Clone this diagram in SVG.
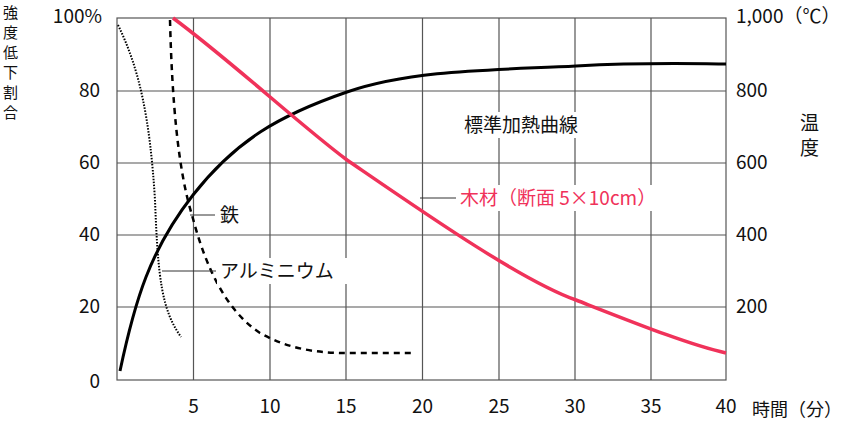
<svg xmlns="http://www.w3.org/2000/svg" width="860" height="425" viewBox="0 0 860 425">
<style>
.g{stroke:#555;stroke-width:1.2;fill:none}
.t{font-family:"Noto Sans CJK JP","Noto Sans",sans-serif;font-size:19px;fill:#111}
.v{font-size:15px}
.r{fill:#f0325a}
.ld{stroke:#333;stroke-width:1;fill:none}
</style>
<rect width="860" height="425" fill="#fff"/>
<g id="grid">
<rect x="117" y="18" width="609" height="362" class="g"/>
<path class="g" d="M193.5 18V380M270 18V380M346 18V380M422.5 18V380M499 18V380M575 18V380M651 18V380M117 91H726M117 163H726M117 235H726M117 307H726"/>
</g>
<g id="axes" class="t">
<text x="3" y="18" class="v">強</text><text x="3" y="38" class="v">度</text><text x="3" y="58" class="v">低</text><text x="3" y="78" class="v">下</text><text x="3" y="98" class="v">割</text><text x="3" y="118" class="v">合</text>
<text x="102" y="23" text-anchor="end">100%</text>
<text x="100" y="97" text-anchor="end">80</text>
<text x="100" y="169" text-anchor="end">60</text>
<text x="100" y="241" text-anchor="end">40</text>
<text x="100" y="313" text-anchor="end">20</text>
<text x="100" y="388" text-anchor="end">0</text>
<text x="736" y="23">1,000（℃）</text>
<text x="736" y="97">800</text><text x="736" y="169">600</text><text x="736" y="241">400</text><text x="736" y="313">200</text>
<text x="800" y="130">温</text><text x="800" y="155">度</text>
<text x="193.5" y="413" text-anchor="middle">5</text><text x="270" y="413" text-anchor="middle">10</text><text x="346" y="413" text-anchor="middle">15</text><text x="422.5" y="413" text-anchor="middle">20</text><text x="499" y="413" text-anchor="middle">25</text><text x="575" y="413" text-anchor="middle">30</text><text x="651" y="413" text-anchor="middle">35</text><text x="726" y="413" text-anchor="middle">40</text>
<text x="752" y="416" font-size="18">時間（分）</text>
</g>
<g id="connectors">
<path id="standard" d="M120 371 C135 300,150 250,193 195 S280 115,347 92 S500 70,576 66 S700 64,726 64" stroke="#000" stroke-width="3" fill="none"/>
<path id="wood" d="M173 18 C230 60,300 125,347 160 C420 210,520 280,576 300 C640 325,690 345,726 353" stroke="#f0325a" stroke-width="3.5" fill="none"/>
<path id="iron" d="M170 20 C172 100,178 170,192 215 C205 265,225 310,260 333 C290 350,320 353,347 353 L414 353" stroke="#000" stroke-width="2.5" stroke-dasharray="6,5" fill="none"/>
<path id="alu" d="M118 25 C140 70,150 120,155 200 C158 280,162 310,181 337" stroke="#000" stroke-width="2" stroke-dasharray="1.5,1.5" fill="none"/>
<path class="ld" d="M190 215H215M162 271H216M420 198H456"/>
</g>
<g id="labels" class="t">
<rect x="217" y="202" width="26" height="26" fill="#fff"/>
<text x="220" y="222">鉄</text>
<rect x="217" y="258" width="138" height="26" fill="#fff"/>
<text x="220" y="278">アルミニウム</text>
<rect x="461" y="112" width="150" height="26" fill="#fff"/>
<text x="464" y="132">標準加熱曲線</text>
<rect x="457" y="185" width="240" height="26" fill="#fff"/>
<text x="460" y="205" class="r">木材（断面 5×10cm）</text>
</g>
</svg>
